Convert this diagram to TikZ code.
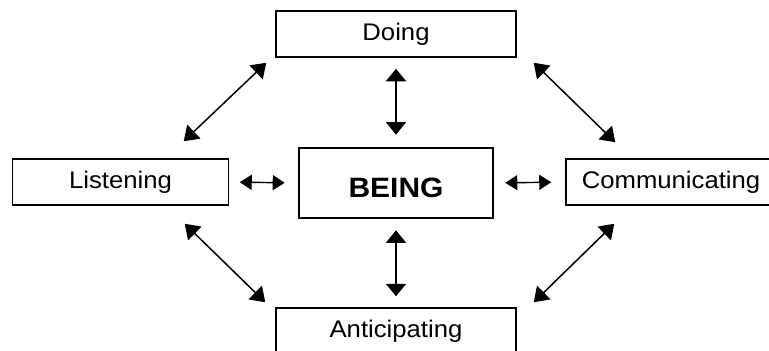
\documentclass[tikz,border=0pt]{standalone}
\usepackage{fontspec}
\setmainfont{Liberation Sans}[FakeStretch=1.07]
\usetikzlibrary{arrows.meta}

\begin{document}
\begin{tikzpicture}[x=1pt,y=-1pt,
  box/.style={draw,line width=1.5pt,minimum height=46pt,inner sep=0pt,
    font=\fontsize{24}{28}\selectfont},
  corebox/.style={draw,line width=2.6pt,minimum width=194pt,minimum height=70pt,
    inner sep=0pt,text height=28pt,text depth=0pt,font=\fontsize{28}{32}\selectfont\bfseries},
  vlink/.style={{Triangle[length=12.5pt,width=20pt]}-{Triangle[length=12.5pt,width=20pt]},line width=1.6pt},
  hlink/.style={{Triangle[length=12pt,width=15pt]}-{Triangle[length=12pt,width=15pt]},line width=1.4pt},
  dlink/.style={{Triangle[length=14pt,width=19pt]}-{Triangle[length=14pt,width=19pt]},line width=1.5pt}]
  \clip (0,0) rectangle (769,351);
  % boxes
  \node[corebox] (being) at (396,183) {BEING};
  \node[box,minimum width=240pt] (doing) at (396,34) {Doing};
  \node[box,minimum width=216pt] (listening) at (120.5,182) {Listening};
  \node[box,minimum width=210pt] (communicating) at (671,182) {Communicating};
  \node[box,minimum width=240pt] (anticipating) at (396,331) {Anticipating};
  % arrows to and from the centre
  \draw[vlink,shorten <=11pt,shorten >=12pt] (doing.south) -- (being.north);
  \draw[vlink,shorten <=11pt,shorten >=11pt] (being.south) -- (anticipating.north);
  \draw[hlink,shorten <=10.5pt,shorten >=13pt] (listening.east) -- (being.west);
  \draw[hlink,shorten <=11pt,shorten >=14pt] (being.east) -- (communicating.west);
  % arrows round the ring
  \draw[dlink] ([xshift=-45.5pt,yshift=17pt]listening.north east) -- ([xshift=-9pt,yshift=-5pt]doing.south west);
  \draw[dlink] ([xshift=17pt,yshift=-5pt]doing.south east) -- ([xshift=50pt,yshift=16pt]communicating.north west);
  \draw[dlink] ([xshift=-44.5pt,yshift=-18pt]listening.south east) -- ([xshift=-10pt,yshift=5pt]anticipating.north west);
  \draw[dlink] ([xshift=49pt,yshift=-18pt]communicating.south west) -- ([xshift=17pt,yshift=5pt]anticipating.north east);
\end{tikzpicture}
\end{document}
